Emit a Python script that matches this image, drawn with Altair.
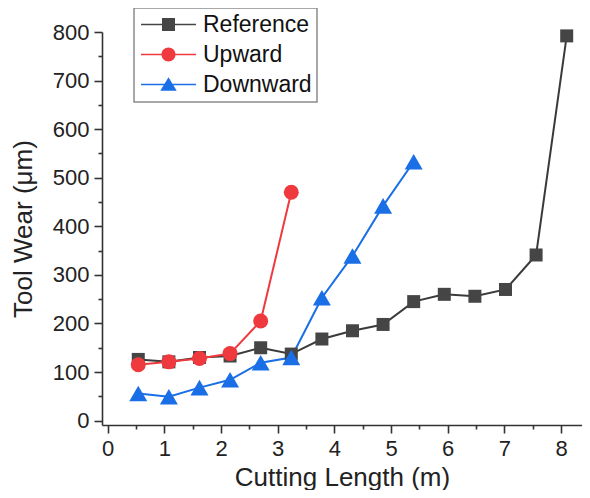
import altair as alt
import pandas as pd

# ---- data ----
series_names = ["Reference", "Upward", "Downward"]
length_m = [0.54, 1.08, 1.62, 2.16, 2.70, 3.24, 3.78, 4.32, 4.86, 5.40, 5.94, 6.48, 7.02, 7.56, 8.10]
reference_wear = [126, 121, 130, 133, 150, 137, 168, 185, 198, 245, 260, 256, 270, 341, 792]
upward_wear = [115, 121, 128, 138, 205, 470]
downward_wear = [56, 49, 68, 84, 119, 130, 253, 339, 442, 533]

x_ticks = [0, 0.5, 1, 1.5, 2, 2.5, 3, 3.5, 4, 4.5, 5, 5.5, 6, 6.5, 7, 7.5, 8]
y_ticks = [0, 50, 100, 150, 200, 250, 300, 350, 400, 450, 500, 550, 600, 650, 700, 750, 800]

line_colors = ["#3a3a3a", "#EE3A3F", "#1A6FE6"]
marker_colors = ["#454545", "#EE3A3F", "#1A6FE6"]
marker_shapes = ["square", "circle", "triangle-up"]
marker_sizes = [169, 225, 324]

# legend symbols: line segment + marker, as custom paths
line_seg = "M-2.75,-0.08H2.75V0.08H-2.75Z"
legend_paths = [
    line_seg + "M-0.65,-0.65H0.65V0.65H-0.65Z",
    line_seg + "M0.7,0A0.7,0.7 0 1,1 -0.7,0A0.7,0.7 0 1,1 0.7,0Z",
    line_seg + "M0,-0.72L0.82,0.62L-0.82,0.62Z",
]

frames = []
for name, ys in zip(series_names, [reference_wear, upward_wear, downward_wear]):
    frames.append(pd.DataFrame({"series": name, "x": length_m[:len(ys)], "y": ys}))
df = pd.concat(frames, ignore_index=True)

FONT = "Liberation Sans"

X = alt.X(
    "x:Q",
    scale=alt.Scale(domain=[-0.1, 8.37], nice=False, zero=False),
    axis=alt.Axis(
        title="Cutting Length (m)",
        values=x_ticks,
        labelExpr="datum.value % 1 === 0 ? '' + datum.value : ''",
        tickSize={"condition": {"test": "datum.value % 1 === 0", "value": 8}, "value": 4},
        labelPadding=5,
        titlePadding=5,
        grid=False,
    ),
)
Y = alt.Y(
    "y:Q",
    scale=alt.Scale(domain=[-9, 800], nice=False, zero=False),
    axis=alt.Axis(
        title="Tool Wear (\u03bcm)",
        values=y_ticks,
        labelExpr="datum.value % 100 === 0 ? '' + datum.value : ''",
        tickSize={"condition": {"test": "datum.value % 100 === 0", "value": 8}, "value": 4},
        labelPadding=5,
        titlePadding=16,
        grid=False,
    ),
)

layers = []
for i, name in enumerate(series_names):
    base = alt.Chart(df).transform_filter(alt.datum.series == name)
    layers.append(base.mark_line(color=line_colors[i], strokeWidth=2).encode(x=X, y=Y))
for i, name in enumerate(series_names):
    base = alt.Chart(df).transform_filter(alt.datum.series == name)
    layers.append(
        base.mark_point(
            shape=marker_shapes[i], filled=True, size=marker_sizes[i],
            color=marker_colors[i], opacity=1,
        ).encode(x=X, y=Y)
    )

legend = alt.Legend(
    title=None,
    orient="none",
    legendX=32,
    legendY=-24,
    fillColor="white",
    strokeColor="#8c8c8c",
    padding=5,
    labelFont=FONT,
    labelFontSize=23,
    labelColor="#111",
    symbolSize=400,
    symbolOffset=18,
    labelOffset=23,
    rowPadding=6,
    symbolOpacity=1,
)
legend_layer = alt.Chart(df).mark_point(filled=True, opacity=0).encode(
    x=X,
    y=Y,
    color=alt.Color("series:N", scale=alt.Scale(domain=series_names, range=marker_colors), legend=legend),
    shape=alt.Shape("series:N", scale=alt.Scale(domain=series_names, range=legend_paths), legend=legend),
)
layers.append(legend_layer)

chart = alt.layer(*layers).properties(
    width=480,
    height=393,
    background="white",
    autosize=alt.AutoSizeParams(type="none"),
    padding={"left": 94, "top": 24, "right": 0, "bottom": 65},
).configure_view(stroke=None).configure_axis(
    grid=False,
    domainColor="#333",
    domainWidth=1.6,
    tickColor="#333",
    tickWidth=1.6,
    labelFont=FONT,
    labelFontSize=22,
    labelColor="#222",
    titleFont=FONT,
    titleFontSize=26,
    titleFontWeight="normal",
    titleColor="#222",
).configure_legend(strokeWidth=1.5)

chart.save("out.html", embed_options={"renderer": "svg", "actions": False})
